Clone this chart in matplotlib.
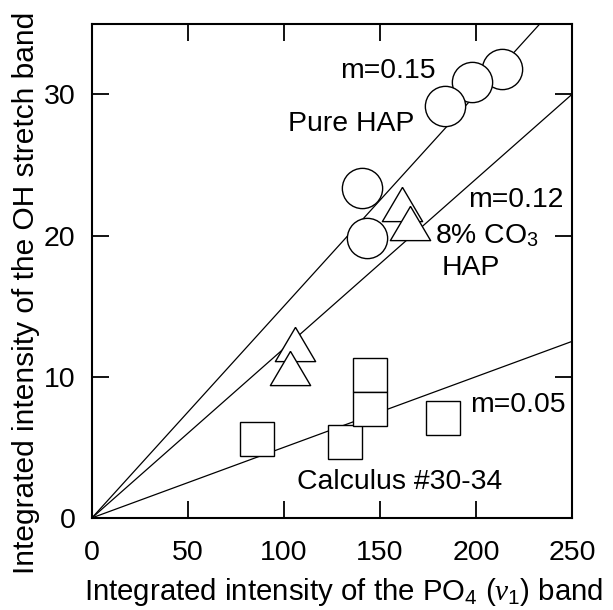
import matplotlib
matplotlib.use('Agg')
import matplotlib.pyplot as plt
import numpy as np

plt.rcParams['font.family'] = ['Liberation Sans', 'DejaVu Sans']
plt.rcParams['mathtext.fontset'] = 'custom'
plt.rcParams['mathtext.rm'] = 'Liberation Sans'
plt.rcParams['mathtext.it'] = 'Liberation Serif:italic'

# Pure HAP (circles)
hap_x = [213.4, 197.7, 183.9, 140.5, 143.1]
hap_y = [31.8, 30.9, 29.2, 23.4, 19.8]

# 8% CO3 HAP (triangles)
co3_x = [161.3, 165.6, 105.7, 103.0]
co3_y = [22.2, 20.9, 12.35, 10.6]

# Calculus #30-34 (squares)
calc_x = [86.0, 132.0, 145.0, 145.0, 182.9]
calc_y = [5.6, 5.4, 10.1, 7.7, 7.1]

# fitted slopes through the origin
slopes = [0.15, 0.12, 0.05]


fig = plt.figure(figsize=(6.13, 6.10), dpi=100)
ax = fig.add_axes([0.150, 0.151, 0.783, 0.810])

xs = np.array([0, 250])
for m in slopes:
    ax.plot(xs, m * xs, color='black', lw=0.9, zorder=1)

# slightly flattened triangle
tri = [(0, 0.85), (-1, -0.85), (1, -0.85), (0, 0.85)]

ax.plot(hap_x, hap_y, ls='none', marker='o', ms=29, mfc='white',
        mec='black', mew=1.0, zorder=3)
ax.plot(co3_x, co3_y, ls='none', marker=tri, ms=29, mfc='white',
        mec='black', mew=1.0, zorder=3)
ax.plot(calc_x, calc_y, ls='none', marker='s', ms=25, mfc='white',
        mec='black', mew=1.0, zorder=3)

fs = 20.4
ax.text(153.9, 31.65, 'm=0.15', fontsize=fs, ha='center', va='center')
ax.text(134.8, 27.9, 'Pure HAP', fontsize=fs, ha='center', va='center')
ax.text(220.7, 22.55, 'm=0.12', fontsize=fs, ha='center', va='center')
ax.text(178.6, 20.0, '8% CO$_3$', fontsize=fs, ha='left', va='center')
ax.text(182.1, 17.7, 'HAP', fontsize=fs, ha='left', va='center')
ax.text(196.9, 8.0, 'm=0.05', fontsize=fs, ha='left', va='center')
ax.text(106.6, 2.57, 'Calculus #30-34', fontsize=fs, ha='left', va='center')

ax.set_xlim(0, 250)
ax.set_ylim(0, 35)
ax.set_xticks([0, 50, 100, 150, 200, 250])
ax.set_yticks([0, 10, 20, 30])
ax.tick_params(direction='in', length=12.5, width=1.3, labelsize=20.5,
               top=True, right=True)
ax.tick_params(axis='x', pad=16)
ax.tick_params(axis='y', pad=12)
for s in ax.spines.values():
    s.set_linewidth(1.5)

ax.set_xlabel(r'Integrated intensity of the PO$_4$ ($\nu_1$) band', fontsize=21.2)
ax.set_ylabel('Integrated intensity of the OH stretch band', fontsize=21.5)
ax.xaxis.set_label_coords(0.525, -0.118)
ax.yaxis.set_label_coords(-0.108, 0.455)

fig.savefig('out.png', dpi=100)
